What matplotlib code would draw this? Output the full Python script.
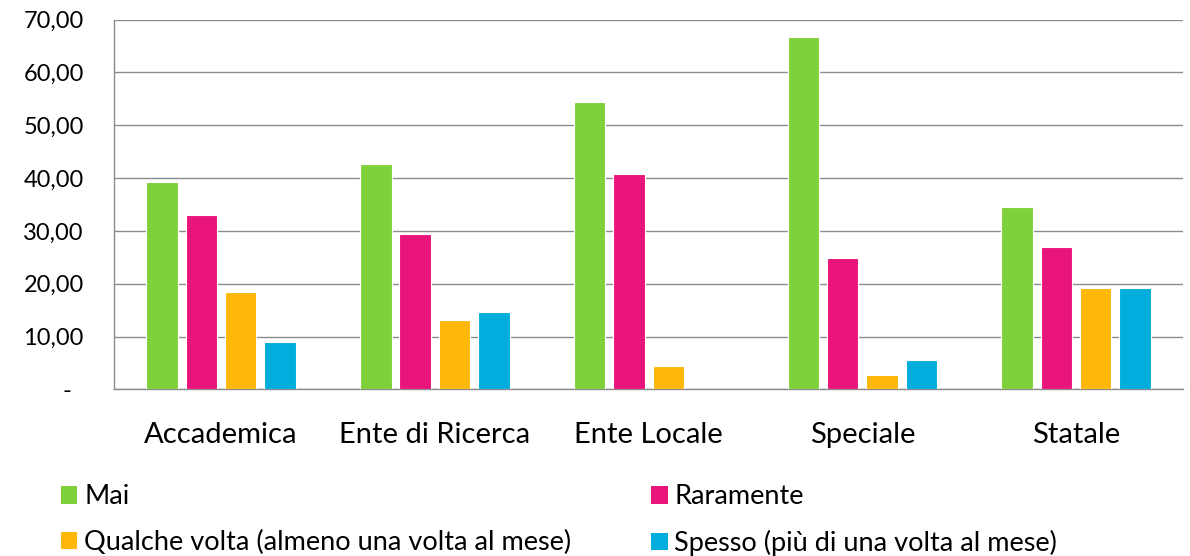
import matplotlib
matplotlib.use("Agg")
import matplotlib.pyplot as plt
import numpy as np
from matplotlib.patches import Patch

categories = ["Accademica", "Ente di Ricerca", "Ente Locale", "Speciale", "Statale"]
series_names = ["Mai", "Raramente", "Qualche volta (almeno una volta al mese)",
                "Spesso (più di una volta al mese)"]
mai = [39.2, 42.6, 54.5, 66.7, 34.5]
raramente = [33.0, 29.4, 40.8, 24.9, 26.9]
qualche_volta = [18.5, 13.1, 4.4, 2.7, 19.2]
spesso = [9.0, 14.6, 0.0, 5.5, 19.2]
y_ticks = [0, 10, 20, 30, 40, 50, 60, 70]

colors = ["#7FD13B", "#EA157A", "#FEB80A", "#00ADDC"]
plt.rcParams['font.family'] = ['Lato', 'DejaVu Sans']

fig = plt.figure(figsize=(11.9, 5.56), dpi=100)
ax = fig.add_axes([0.096, 0.2998, 0.898, 0.6648])

x = np.arange(len(categories))
step = 0.184
width = 0.147
all_series = [mai, raramente, qualche_volta, spesso]
handles = []
for i, (vals, c) in enumerate(zip(all_series, colors)):
    offs = (i - 1.5) * step
    ax.bar(x + offs, vals, width=width, color=c, edgecolor="white", linewidth=0.8, zorder=3)
    handles.append(Patch(facecolor=c, edgecolor="none"))

ax.set_xlim(-0.5, len(categories) - 0.5)
ax.set_ylim(0, 70)
ax.set_yticks(y_ticks)
ax.set_yticklabels([("-  " if v == 0 else f"{v:.2f}".replace(".", ",")) for v in y_ticks])
ax.set_xticks(x)
ax.set_xticklabels(categories)
ax.tick_params(axis="y", length=0, pad=22, labelsize=17, labelcolor="#000000")
ax.tick_params(axis="x", length=0, pad=23.5, labelsize=21, labelcolor="#000000")
ax.grid(axis="y", color="#8C8C8C", linewidth=1.0, zorder=0)
for s in ["top", "right"]:
    ax.spines[s].set_visible(False)
ax.spines["left"].set_color("#8C8C8C")
ax.spines["bottom"].set_color("#8C8C8C")
ax.spines["left"].set_linewidth(1.0)
ax.spines["bottom"].set_linewidth(1.0)

order = [0, 2, 1, 3]
leg = fig.legend([handles[i] for i in order], [series_names[i] for i in order],
                 ncol=2, loc="upper left", bbox_to_anchor=(0.040, 0.153),
                 frameon=False, fontsize=19.5, handlelength=0.6, handleheight=0.6,
                 handletextpad=0.25, columnspacing=2.96, labelspacing=0.75, borderpad=0)

fig.savefig("out.png", dpi=100)
